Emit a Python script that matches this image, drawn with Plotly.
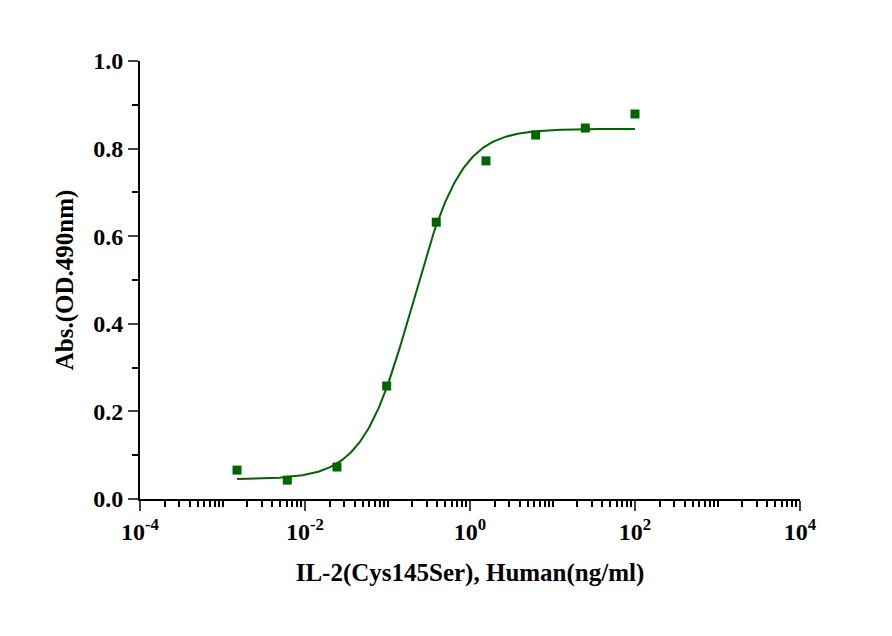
import numpy as np
import plotly.graph_objects as go

# measured points
conc = [0.0015, 0.0061, 0.0244, 0.0977, 0.39, 1.5625, 6.25, 25, 100]
absorb = [0.066, 0.043, 0.073, 0.258, 0.632, 0.772, 0.831, 0.847, 0.879]

# 4-parameter logistic fit parameters
bottom, top, ec50, hill = 0.045, 0.845, 0.2, 1.45

xc = np.logspace(np.log10(conc[0]), np.log10(conc[-1]), 300)
yc = bottom + (top - bottom) / (1 + (ec50 / xc) ** hill)

green = "#006400"
font = dict(family="Liberation Serif", size=24, color="black")

fig = go.Figure()
fig.add_trace(go.Scatter(x=xc, y=yc, mode="lines", line=dict(color=green, width=2), hoverinfo="skip"))
fig.add_trace(go.Scatter(x=conc, y=absorb, mode="markers",
                         marker=dict(symbol="square", size=9, color=green)))

major = [1e-4, 1e-2, 1, 1e2, 1e4]
minor = [m * 10.0 ** d for d in range(-4, 4) for m in range(2, 10)] + [10.0 ** d for d in (-3, -1, 1, 3)]

fig.update_layout(
    width=892, height=636, showlegend=False,
    plot_bgcolor="white", paper_bgcolor="white",
    margin=dict(l=132, r=100, t=53, b=145),
    font=font,
)
fig.update_xaxes(
    type="log", range=[-4, 4], showgrid=False, zeroline=False,
    showline=True, linecolor="black", linewidth=2,
    ticks="outside", ticklen=10, tickwidth=2,
    tickvals=major,
    ticktext=["<b>10<sup>-4</sup></b>", "<b>10<sup>-2</sup></b>", "<b>10<sup>0</sup></b>",
              "<b>10<sup>2</sup></b>", "<b>10<sup>4</sup></b>"],
    minor=dict(tickvals=minor, ticks="outside", ticklen=6, tickwidth=1.5, tickcolor="black"),
    title=dict(text="<b>IL-2(Cys145Ser), Human(ng/ml)</b>", font=dict(size=25), standoff=20),
)
fig.update_yaxes(
    range=[0, 1.0], showgrid=False, zeroline=False,
    showline=True, linecolor="black", linewidth=2,
    ticks="outside", ticklen=10, tickwidth=2,
    tickvals=[0, 0.2, 0.4, 0.6, 0.8, 1.0],
    ticktext=["<b>0.0</b>", "<b>0.2</b>", "<b>0.4</b>", "<b>0.6</b>", "<b>0.8</b>", "<b>1.0</b>"],
    minor=dict(tickvals=[0.1, 0.3, 0.5, 0.7, 0.9], ticks="outside", ticklen=6, tickwidth=1.5, tickcolor="black"),
    title=dict(text="<b>Abs.(OD.490nm)</b>", font=dict(size=25), standoff=12),
)

fig.write_html("out.html")
